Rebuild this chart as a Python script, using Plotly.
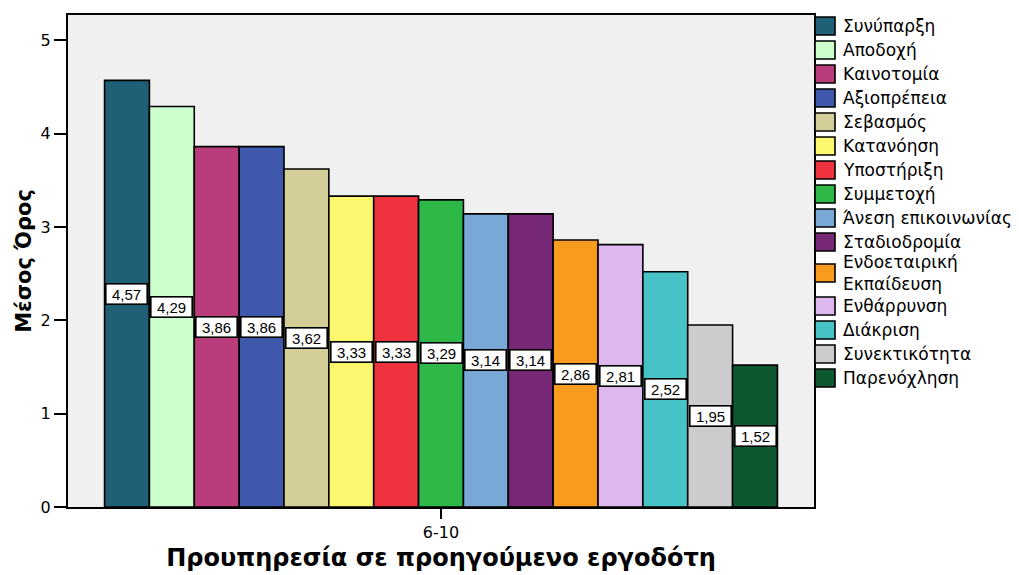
import plotly.graph_objects as go

# Mean scores per workplace factor, for 6-10 years of prior service
group = "6-10"
factors = [
    "Συνύπαρξη", "Αποδοχή", "Καινοτομία", "Αξιοπρέπεια", "Σεβασμός",
    "Κατανόηση", "Υποστήριξη", "Συμμετοχή", "Άνεση επικοινωνίας", "Σταδιοδρομία",
    "Ενδοεταιρική<br>Εκπαίδευση", "Ενθάρρυνση", "Διάκριση", "Συνεκτικότητα", "Παρενόχληση",
]
means = [4.57, 4.29, 3.86, 3.86, 3.62, 3.33, 3.33, 3.29, 3.14, 3.14, 2.86, 2.81, 2.52, 1.95, 1.52]
colors = [
    "#1F6077", "#CCFFCC", "#B83D7A", "#3E58AC", "#D3CE97",
    "#FBF870", "#EE333E", "#2EB848", "#79A7D6", "#762876",
    "#F89B1E", "#DDB8EE", "#47C2C7", "#CCCCCC", "#0E5830",
]
y_ticks = [0, 1, 2, 3, 4, 5]

W, H = 1019, 575
ML, MR, MT, MB = 68, 205, 15, 68
BARGAP = 0.098
SANS = "DejaVu Sans, Verdana, sans-serif"
ARIAL = "Liberation Sans, Arial, sans-serif"

fig = go.Figure()
for name, val, col in zip(factors, means, colors):
    fig.add_trace(go.Bar(
        x=[group], y=[val], name=name,
        marker=dict(color=col, line=dict(color="black", width=1.6)),
        showlegend=False,
    ))

# value boxes at mid-height of each bar
n = len(means)
bar_w = (1 - BARGAP) / n
start = -(1 - BARGAP) / 2
annotations = []
for i, val in enumerate(means):
    annotations.append(dict(
        x=start + (i + 0.5) * bar_w, y=val / 2, xref="x", yref="y",
        text=f"{val:.2f}".replace(".", ","), showarrow=False,
        font=dict(family=ARIAL, size=15, color="black"),
        width=38, height=17, align="center", valign="middle",
        bgcolor="white", bordercolor="black", borderwidth=1.6, borderpad=1,
    ))

# legend: swatches and labels to the right of the plot frame
plot_w = W - ML - MR
plot_h = H - MT - MB
def px_x(px):
    return (px - ML) / plot_w
def px_y(py):
    return (H - MB - py) / plot_h

shapes = []
centers = [26, 50, 74, 98, 122, 146, 170, 194, 218, 242, 273, 306, 330, 354, 378]
for name, col, cy in zip(factors, colors, centers):
    shapes.append(dict(
        type="rect", xref="paper", yref="paper",
        x0=px_x(815), x1=px_x(835), y0=px_y(cy + 9), y1=px_y(cy - 9),
        fillcolor=col, line=dict(color="black", width=1.6),
    ))
    annotations.append(dict(
        x=px_x(841), y=px_y(cy), xref="paper", yref="paper",
        xanchor="left", yanchor="middle", align="left",
        text=name, showarrow=False,
        font=dict(family=SANS, size=17, color="black"),
    ))

fig.update_layout(
    width=W, height=H,
    margin=dict(l=ML, r=MR, t=MT, b=MB, autoexpand=False),
    paper_bgcolor="white", plot_bgcolor="#F0F0F0",
    barmode="group", bargap=BARGAP, bargroupgap=0,
    font=dict(family=SANS, color="black"),
    annotations=annotations, shapes=shapes,
    showlegend=False,
    xaxis=dict(
        type="category", range=[-0.5, 0.5],
        showline=True, linecolor="black", linewidth=2, mirror=True,
        ticks="outside", ticklen=10, tickwidth=1.5, tickcolor="black",
        tickfont=dict(size=16), showgrid=False,
        title=dict(text="<b>Προυπηρεσία σε προηγούμενο εργοδότη</b>",
                   font=dict(size=24), standoff=8),
    ),
    yaxis=dict(
        range=[0, 5.27], tickvals=y_ticks,
        showline=True, linecolor="black", linewidth=2, mirror=True,
        ticks="outside", ticklen=12, tickwidth=1.5, tickcolor="black",
        tickfont=dict(size=16), showgrid=False, zeroline=False,
        title=dict(text="<b>Μέσος Όρος</b>", font=dict(size=21), standoff=3),
    ),
)

fig.write_html("out.html")
